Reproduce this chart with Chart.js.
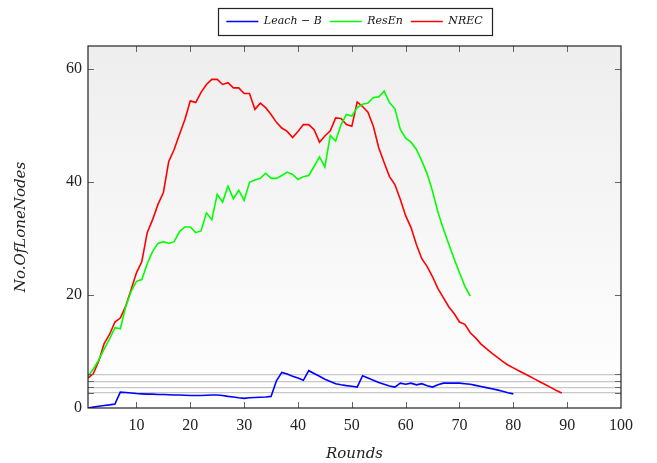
<!DOCTYPE html>
<html><head><meta charset="utf-8">
<script src="https://cdn.jsdelivr.net/npm/chart.js@4.4.1/dist/chart.umd.min.js"></script>
<style>html,body{margin:0;padding:0;background:#fff;}#wrap{width:657px;height:463px;position:relative;}</style>
</head><body><div id="wrap"><canvas id="c"></canvas></div>
<script>
const seriesNames = ['Leach \u2212 B', 'ResEn', 'NREC'];
const seriesColors = ['#0000ff', '#00ff00', '#ff0000'];
// values per round, starting at round 1
const leachB = [0, 0.15, 0.3, 0.45, 0.55, 0.7, 2.8, 2.75, 2.65, 2.55,
  2.5, 2.45, 2.45, 2.4, 2.4, 2.35, 2.3, 2.3, 2.25, 2.2,
  2.2, 2.2, 2.25, 2.3, 2.3, 2.2, 2.05, 1.95, 1.8, 1.7,
  1.8, 1.85, 1.9, 1.95, 2.05, 4.8, 6.3, 6.0, 5.6, 5.3,
  4.9, 6.6, 6.1, 5.6, 5.1, 4.7, 4.3, 4.1, 3.95, 3.85,
  3.7, 5.7, 5.3, 4.9, 4.5, 4.2, 3.9, 3.7, 4.4, 4.2,
  4.4, 4.1, 4.3, 3.95, 3.7, 4.1, 4.4, 4.4, 4.4, 4.4,
  4.3, 4.2, 4.0, 3.8, 3.6, 3.4, 3.2, 2.95, 2.7, 2.5];
const resEn = [5.6, 6.9, 8.5, 10.4, 12.2, 14.2, 14.0, 17.9, 20.6, 22.4,
  22.7, 25.5, 27.7, 29.1, 29.4, 29.1, 29.4, 31.2, 32.0, 32.0,
  31.0, 31.3, 34.5, 33.3, 37.8, 36.4, 39.2, 37.0, 38.5, 36.7,
  39.9, 40.3, 40.6, 41.5, 40.6, 40.6, 41.1, 41.7, 41.3, 40.4,
  40.9, 41.1, 42.7, 44.4, 42.6, 48.2, 47.2, 50.1, 51.9, 51.6,
  53.1, 53.7, 53.9, 54.9, 55.0, 56.0, 54.0, 52.9, 49.3, 47.7,
  47.0, 45.7, 43.7, 41.4, 38.3, 34.6, 31.7, 29.0, 26.4, 23.9,
  21.5, 19.8];
const nrec = [5.3, 6.1, 8.3, 11.4, 13.0, 15.2, 15.9, 18.0, 20.9, 23.9,
  25.9, 31.0, 33.3, 36.0, 38.1, 43.6, 45.7, 48.4, 51.0, 54.3,
  54.0, 55.8, 57.2, 58.1, 58.1, 57.2, 57.5, 56.6, 56.6, 55.6,
  55.6, 52.8, 53.9, 53.1, 51.9, 50.5, 49.5, 48.9, 47.8, 48.9,
  50.1, 50.1, 49.2, 47.0, 48.1, 49.0, 51.3, 51.2, 50.1, 49.8,
  54.1, 53.3, 52.3, 49.8, 46.0, 43.4, 40.9, 39.5, 36.9, 34.0,
  31.9, 28.9, 26.4, 25.0, 23.2, 21.1, 19.5, 17.9, 16.7, 15.2,
  14.8, 13.3, 12.4, 11.3, 10.5, 9.7, 9.0, 8.25, 7.6, 7.1,
  6.6, 6.1, 5.6, 5.1, 4.6, 4.1, 3.6, 3.1, 2.65];
const xTickValues = [10, 20, 30, 40, 50, 60, 70, 80, 90, 100];
const yTickValues = [0, 20, 40, 60];
const refLevels = [5.95, 4.7, 3.65, 2.65];

const toPoints = arr => arr.map((v, i) => ({x: i + 1, y: v}));
const seriesValues = [leachB, resEn, nrec];

const bgPlugin = {
  id: 'plotBackground',
  beforeDraw(chart) {
    const {ctx, chartArea: a} = chart;
    const g = ctx.createLinearGradient(0, a.top, 0, a.bottom);
    g.addColorStop(0, '#eeeeee');
    g.addColorStop(1, '#ffffff');
    ctx.save();
    ctx.fillStyle = g;
    ctx.fillRect(a.left, a.top, a.right - a.left, a.bottom - a.top);
    ctx.restore();
  }
};
const framePlugin = {
  id: 'frame',
  afterDatasetsDraw(chart) {
    const {ctx, chartArea: a, scales} = chart;
    const L = 6;
    ctx.save();
    ctx.strokeStyle = '#666';
    ctx.lineWidth = 1;
    ctx.beginPath();
    scales.x.ticks.forEach(t => {
      if (t.value <= scales.x.min || t.value >= scales.x.max) return;
      const px = Math.round(scales.x.getPixelForValue(t.value)) + 0.5;
      ctx.moveTo(px, a.bottom); ctx.lineTo(px, a.bottom - L);
      ctx.moveTo(px, a.top); ctx.lineTo(px, a.top + L);
    });
    [...scales.y.ticks, ...scales.yRef.ticks].forEach(t => {
      if (t.value <= scales.y.min || t.value >= scales.y.max) return;
      const py = Math.round(scales.y.getPixelForValue(t.value)) + 0.5;
      ctx.moveTo(a.left, py); ctx.lineTo(a.left + L, py);
      ctx.moveTo(a.right, py); ctx.lineTo(a.right - L, py);
    });
    ctx.stroke();
    ctx.strokeStyle = '#222';
    ctx.lineWidth = 1.2;
    ctx.strokeRect(a.left, a.top, a.right - a.left, a.bottom - a.top);
    ctx.restore();
  },
  afterDraw(chart) {
    const hb = chart.legend && chart.legend.legendHitBoxes;
    if (!hb || !hb.length) return;
    const {ctx} = chart;
    const left = Math.min(...hb.map(h => h.left)) - 8;
    const right = Math.max(...hb.map(h => h.left + h.width)) + 10;
    const cy = hb[0].top + hb[0].height / 2;
    ctx.save();
    ctx.strokeStyle = '#222';
    ctx.lineWidth = 1.2;
    ctx.strokeRect(Math.round(left) + 0.5, Math.round(cy - 13.5) + 0.5, Math.round(right - left), 27);
    ctx.restore();
  }
};

const tickFont = {family: 'Liberation Serif', size: 16};
const titleFont = {family: 'DejaVu Serif', style: 'italic', size: 15};

new Chart(document.getElementById('c'), {
  type: 'line',
  data: {
    datasets: seriesNames.map((name, i) => ({
      label: name,
      data: toPoints(seriesValues[i]),
      borderColor: seriesColors[i],
      backgroundColor: seriesColors[i],
      borderWidth: 1.6,
      pointRadius: 0,
      tension: 0,
      fill: false
    }))
  },
  options: {
    responsive: true,
    maintainAspectRatio: false,
    devicePixelRatio: 1,
    animation: false,
    layout: {padding: {top: 8, right: 36, bottom: 0, left: 0}},
    plugins: {
      tooltip: {enabled: false},
      legend: {
        position: 'top',
        fullSize: false,
        labels: {
          usePointStyle: true,
          pointStyle: 'line',
          pointStyleWidth: 32,
          padding: 8,
          color: '#111',
          font: {family: 'DejaVu Serif', style: 'italic', size: 11}
        }
      }
    },
    scales: {
      x: {
        type: 'linear', position: 'bottom', min: 1, max: 100,
        afterBuildTicks: s => { s.ticks = xTickValues.map(v => ({value: v})); },
        afterFit: s => { s.height = 55; },
        grid: {display: false, drawTicks: false},
        border: {display: false},
        ticks: {padding: 8, color: '#222', font: tickFont, maxRotation: 0, autoSkip: false, callback: v => String(v)},
        title: {display: true, text: 'Rounds', color: '#222', font: titleFont, padding: {top: 0, bottom: 0}}
      },
      xTop: {
        type: 'linear', position: 'top', min: 1, max: 100,
        grid: {display: false, drawTicks: false},
        border: {display: false},
        ticks: {display: false},
        afterFit: s => { s.height = 9; }
      },
      y: {
        type: 'linear', position: 'left', min: 0, max: 64,
        afterBuildTicks: s => { s.ticks = yTickValues.map(v => ({value: v})); },
        afterFit: s => { s.width = 88; },
        grid: {display: false, drawTicks: false},
        border: {display: false},
        ticks: {padding: 6, color: '#222', font: tickFont, callback: v => String(v)},
        title: {display: true, text: 'No.OfLoneNodes', color: '#222', font: titleFont, padding: {top: 12, bottom: 0}}
      },
      yRef: {
        type: 'linear', position: 'right', min: 0, max: 64,
        afterBuildTicks: s => { s.ticks = refLevels.map(v => ({value: v})); },
        afterFit: s => { s.width = 0; },
        grid: {display: true, drawTicks: false, color: '#c8c8c8', lineWidth: 1.2},
        border: {display: false},
        ticks: {display: false}
      }
    }
  },
  plugins: [bgPlugin, framePlugin]
});
</script>
</body></html>
